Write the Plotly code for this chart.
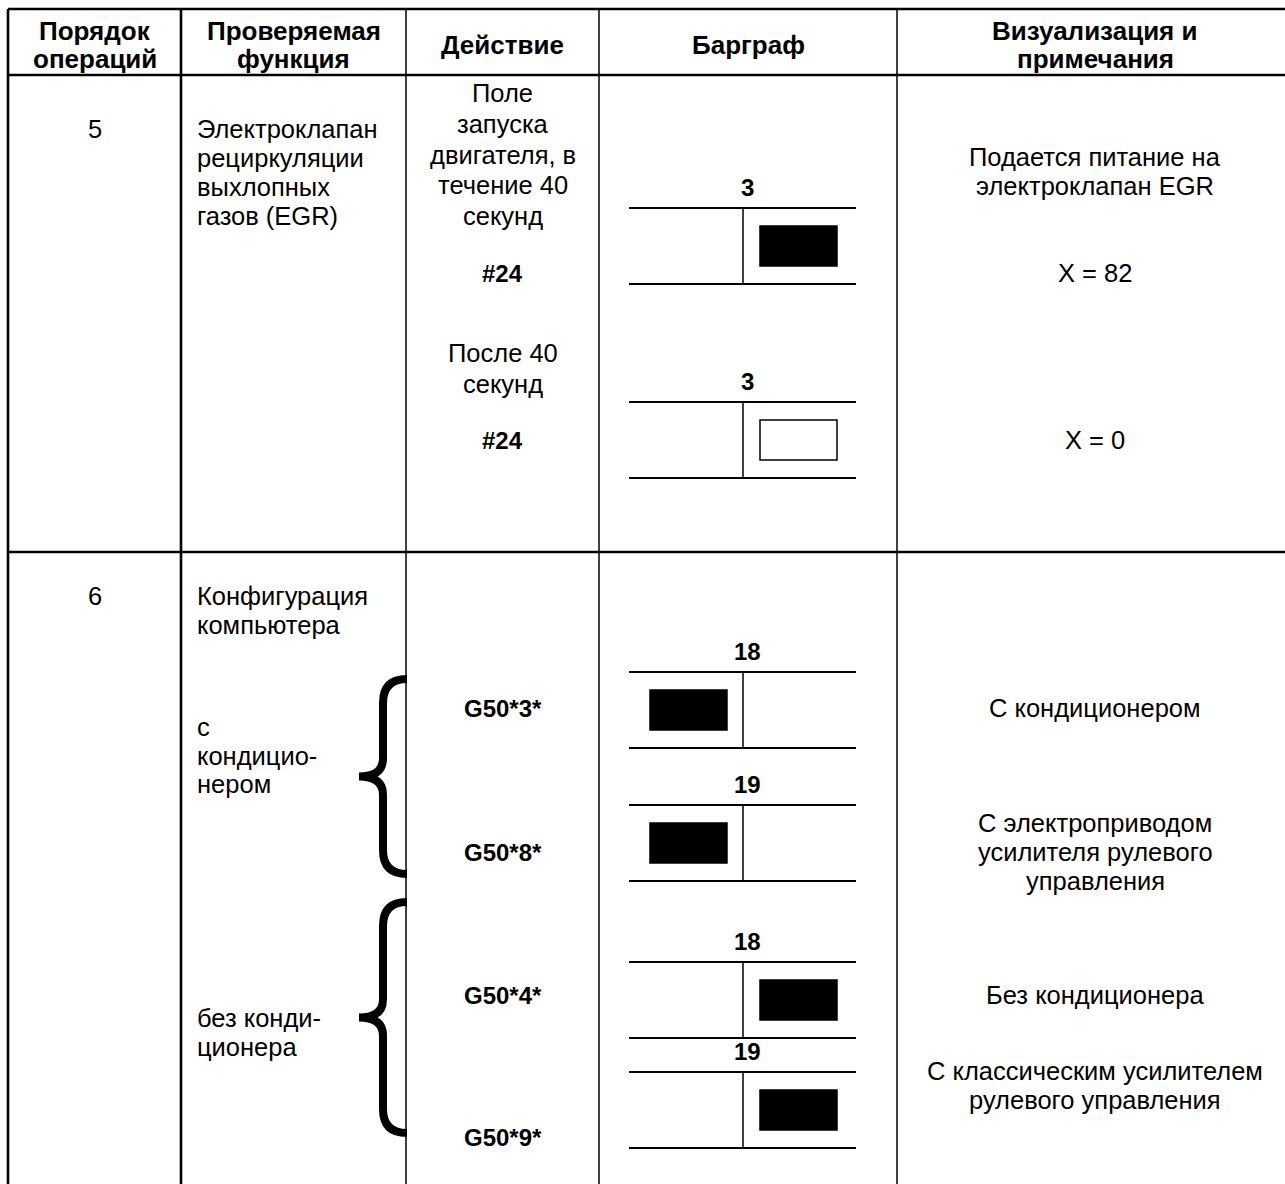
import plotly.graph_objects as go

# ---------------- data ----------------
headers = [["Порядок", "операций"], ["Проверяемая", "функция"], ["Действие"],
           ["Барграф"], ["Визуализация и", "примечания"]]
step_numbers = ["5", "6"]
functions_row5 = ["Электроклапан", "рециркуляции", "выхлопных", "газов (EGR)"]
functions_row6 = ["Конфигурация", "компьютера"]
with_ac = ["с", "кондицио-", "нером"]
without_ac = ["без конди-", "ционера"]
action_row5a = ["Поле", "запуска", "двигателя, в", "течение 40", "секунд"]
action_row5b = ["После 40", "секунд"]
action_codes = ["#24", "#24", "G50*3*", "G50*8*", "G50*4*", "G50*9*"]
bar_labels = ["3", "3", "18", "19", "18", "19"]
bar_side = ["right", "right", "left", "left", "right", "right"]
bar_filled = [True, False, True, True, True, True]
notes = [["Подается питание на", "электроклапан EGR"], ["X = 82"], ["X = 0"],
         ["С кондиционером"],
         ["С электроприводом", "усилителя рулевого", "управления"],
         ["Без кондиционера"],
         ["С классическим усилителем", "рулевого управления"]]

# ---------------- layout (pixel positions) ----------------
W, H = 1285, 1184
COLS = [8, 181, 406, 599, 897, 1290]
HEADER_TOP, HEADER_BOT, ROW_SEP = 9, 75, 552
FONT = "Liberation Sans, Arial, sans-serif"
FS = 25.5
HFS = 26
CFS = 24
BAR_TOPS = [208, 402, 672, 805, 962, 1072]
BAR_H = 76
CODE_Y = [273, 440, 708, 852, 995, 1137]
NOTE_Y = [157, 273, 440, 708, 823, 995, 1071]
NOTE_X = 1095

fig = go.Figure()
fig.add_trace(go.Scatter(x=[0, W], y=[0, H], mode="markers",
                         marker=dict(opacity=0), hoverinfo="skip", showlegend=False))

shapes = []
ann = []


def line(x0, y0, x1, y1, w=1.5):
    shapes.append(dict(type="line", x0=x0, y0=y0, x1=x1, y1=y1, xref="x", yref="y",
                       line=dict(color="black", width=w)))


def text(t, x, y, anchor="center", bold=False, size=FS):
    ann.append(dict(x=x, y=y, xref="x", yref="y", text=f"<b>{t}</b>" if bold else t,
                    showarrow=False, xanchor=anchor, yanchor="middle",
                    font=dict(family=FONT, size=size, color="black")))


def block(lines, x, y0, step, anchor="center", bold=False, size=FS):
    for i, t in enumerate(lines):
        text(t, x, y0 + i * step, anchor, bold, size)


# table grid
line(COLS[0], HEADER_TOP, W, HEADER_TOP, 2.6)
line(COLS[0], HEADER_BOT, W, HEADER_BOT, 2.6)
line(COLS[0], ROW_SEP, W, ROW_SEP, 2.6)
for i, cx in enumerate(COLS[:-1]):
    line(cx, HEADER_TOP, cx, H, 2.6 if i < 2 else 1.5)

# header
centers = [(COLS[i] + COLS[i + 1]) / 2 for i in range(4)] + [NOTE_X]
for c, h in zip(centers, headers):
    if len(h) == 2:
        block(h, c, 31, 28, bold=True, size=HFS)
    else:
        text(h[0], c, 45, bold=True, size=HFS)

# row numbers
text(step_numbers[0], centers[0], 129)
text(step_numbers[1], centers[0], 596)

# function column
LX = 195
block(functions_row5, LX, 129, 29, anchor="left")
block(functions_row6, LX, 596, 28.5, anchor="left")
block(with_ac, LX, 727, 28.5, anchor="left")
block(without_ac, LX, 1018, 28.5, anchor="left")

# braces
for top, bot in [(679, 874), (902, 1133)]:
    mid = (top + bot) / 2
    r = 24
    path = (f"M 407,{top} Q 383,{top} 383,{top + r} L 383,{mid - 18} "
            f"Q 383,{mid} 359,{mid} Q 383,{mid} 383,{mid + 18} L 383,{bot - r} "
            f"Q 383,{bot} 407,{bot}")
    shapes.append(dict(type="path", path=path, xref="x", yref="y",
                       line=dict(color="black", width=8)))

# action column
block(action_row5a, centers[2], 93, 30.8)
block(action_row5b, centers[2], 353, 30.5)
for c, y in zip(action_codes, CODE_Y):
    text(c, centers[2], y, bold=True, size=CFS)

# bar graphs
for lab, side, filled, top in zip(bar_labels, bar_side, bar_filled, BAR_TOPS):
    bot = top + BAR_H
    line(629, top, 856, top, 1.8)
    line(629, bot, 856, bot, 1.8)
    line(743, top, 743, bot, 1.5)
    x0, x1 = (760, 837) if side == "right" else (650, 727)
    shapes.append(dict(type="rect", x0=x0, x1=x1, y0=top + 18, y1=bot - 18,
                       xref="x", yref="y",
                       fillcolor="black" if filled else "white",
                       line=dict(color="black", width=1.5)))
    text(lab, 747, top - 21, bold=True, size=CFS)

# notes column
for n, y in zip(notes, NOTE_Y):
    block(n, NOTE_X, y, 29)

fig.update_layout(
    width=W, height=H, margin=dict(l=0, r=0, t=0, b=0),
    paper_bgcolor="white", plot_bgcolor="white",
    xaxis=dict(range=[0, W], visible=False, fixedrange=True),
    yaxis=dict(range=[H, 0], visible=False, fixedrange=True),
    shapes=shapes, annotations=ann, showlegend=False,
)
fig.write_html("out.html", config={"displayModeBar": False},
               post_script="document.body.style.margin='0px';")
